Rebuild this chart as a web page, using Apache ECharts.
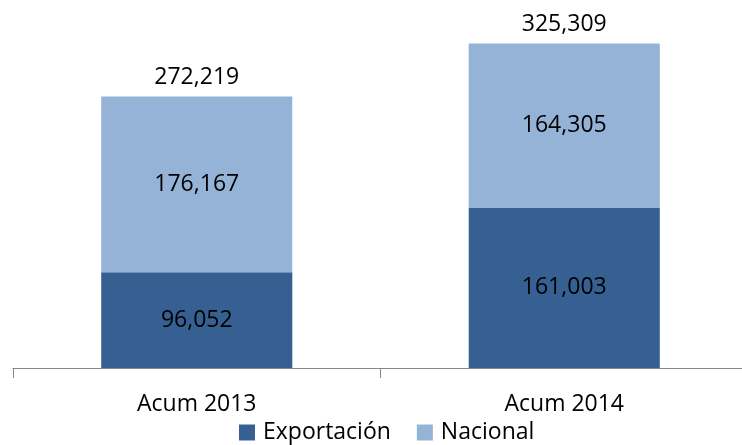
<!DOCTYPE html>
<html>
<head>
<meta charset="utf-8">
<script src="https://cdn.jsdelivr.net/npm/echarts@6/dist/echarts.min.js"></script>
<style>
  html, body { margin: 0; padding: 0; background: #fff; }
  #chart { width: 742px; height: 445px; }
</style>
</head>
<body>
<div id="chart"></div>
<script>
const categories = ['Acum 2013', 'Acum 2014'];
const exportacion = [96052, 161003];
const nacional = [176167, 164305];
// totals as printed on the chart
const totals = [272219, 325309];

const fmt = v => v.toLocaleString('en-US');
const font = '"Open Sans", sans-serif';
const fs = 23;

const chart = echarts.init(document.getElementById('chart'));
chart.setOption({
  animation: false,
  textStyle: { fontFamily: font },
  legend: {
    bottom: -4,
    left: 234,
    itemWidth: 16,
    itemHeight: 16,
    itemGap: 26,
    icon: 'rect',
    textStyle: { fontSize: fs, color: '#000', fontFamily: font, padding: [0, 0, 0, 3] },
    data: ['Exportación', 'Nacional']
  },
  grid: { left: 13, width: 735, top: 19, bottom: 77, outerBoundsMode: 'none', containLabel: false },
  xAxis: {
    type: 'category',
    data: categories,
    axisLine: { lineStyle: { color: '#868686', width: 1 } },
    axisTick: { show: true, length: 10, lineStyle: { color: '#868686' } },
    axisLabel: { fontSize: fs, color: '#000', margin: 25, fontFamily: font }
  },
  yAxis: {
    type: 'value',
    min: 0,
    max: 350000,
    show: false,
    splitLine: { show: false }
  },
  series: [
    {
      name: 'Exportación',
      type: 'bar',
      stack: 'total',
      barWidth: '52%',
      itemStyle: { color: '#376092' },
      label: {
        show: true,
        position: 'inside',
        fontSize: fs,
        color: '#000',
        fontFamily: font,
        formatter: p => fmt(p.value)
      },
      data: exportacion
    },
    {
      name: 'Nacional',
      type: 'bar',
      stack: 'total',
      itemStyle: { color: '#95b3d7' },
      label: {
        show: true,
        position: 'inside',
        fontSize: fs,
        color: '#000',
        fontFamily: font,
        formatter: p => fmt(p.value)
      },
      data: nacional
    },
    {
      name: 'Total',
      type: 'bar',
      stack: 'total',
      itemStyle: { color: 'transparent' },
      label: {
        show: true,
        position: 'insideBottom',
        distance: 8,
        fontSize: fs,
        color: '#000',
        fontFamily: font,
        formatter: p => fmt(totals[p.dataIndex])
      },
      data: totals.map(() => 0)
    }
  ]
});
</script>
</body>
</html>
